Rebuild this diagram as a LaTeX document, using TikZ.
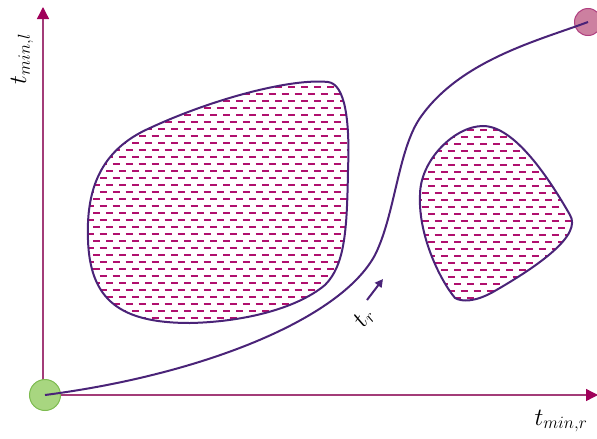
\documentclass[tikz,border=0pt]{standalone}
\usetikzlibrary{arrows.meta}
\definecolor{axiscol}{RGB}{163,60,120}
\definecolor{tipcol}{RGB}{160,0,90}
\definecolor{curvecol}{RGB}{74,35,120}
\definecolor{hatchcol}{RGB}{176,16,110}
\definecolor{greenfill}{RGB}{168,214,128}
\definecolor{greenline}{RGB}{125,187,80}
\definecolor{pinkfill}{RGB}{204,128,160}
\definecolor{pinkline}{RGB}{176,64,128}
\begin{document}
\begin{tikzpicture}[x=1pt,y=-1pt,
    axis/.style={axiscol, line width=1.4pt, -{Triangle[width=12pt,length=12pt,color=tipcol]}},
    region/.style={curvecol, line width=2pt},
    hatch/.style={draw=hatchcol, line width=2pt, dash pattern=on 7pt off 6pt},
    traj/.style={curvecol, line width=2pt},
    lbl/.style={font=\fontsize{27}{30}\selectfont}]
  \useasboundingbox (0,0) rectangle (597,439);
  % axes
  \coordinate (origin) at (43,395);
  \coordinate (ytip) at (43,7);
  \coordinate (xtip) at (598,395);
  \draw[axis] (origin) -- (ytip);
  \draw[axis] (origin) -- (xtip);
  \node[lbl, rotate=90] (ylabel) at (22,59) {$t_{min,l}$};
  \node[lbl] (xlabel) at (561,421) {$t_{min,r}$};
  % left region
  \def\blobA{(328,82) .. controls (345,84) and (350,120) .. (348,170)
    .. controls (347,230) and (345,265) .. (325,285)
    .. controls (295,310) and (240,322) .. (190,323)
    .. controls (120,323) and (90,300) .. (88,240)
    .. controls (86,190) and (100,150) .. (150,128)
    .. controls (210,100) and (290,78) .. (328,82) -- cycle}
  \begin{scope}
    \clip \blobA;
    \foreach \i in {0,...,34} {
      \pgfmathsetmacro{\hy}{87+\i*7}
      \pgfmathsetmacro{\hph}{mod(\i,2)*6.5}
      \draw[hatch, dash phase=\hph pt] (80,\hy) -- (360,\hy);
    }
  \end{scope}
  \draw[region] \blobA;
  % right region
  \def\blobB{(483,126) .. controls (515,126) and (550,180) .. (570,215)
    .. controls (582,235) and (540,265) .. (493,292)
    .. controls (475,302) and (462,302) .. (455,298)
    .. controls (440,280) and (418,235) .. (420,195)
    .. controls (420,160) and (455,126) .. (483,126) -- cycle}
  \begin{scope}
    \clip \blobB;
    \foreach \i in {0,...,25} {
      \pgfmathsetmacro{\hy}{130+\i*7}
      \pgfmathsetmacro{\hph}{mod(\i,2)*6.5}
      \draw[hatch, dash phase=\hph pt] (415,\hy) -- (580,\hy);
    }
  \end{scope}
  \draw[region] \blobB;
  % trajectory
  \node[circle, draw=greenline, fill=greenfill, line width=1pt, minimum size=31pt, inner sep=0pt] (start) at (45,395) {};
  \node[circle, draw=pinkline, fill=pinkfill, line width=1pt, minimum size=27pt, inner sep=0pt] (goal) at (588,22) {};
  \draw[traj] (start.center) .. controls (200,375) and (340,320) .. (375,255)
    .. controls (395,215) and (398,150) .. (420,118)
    .. controls (460,60) and (540,40) .. (goal.center);
  % direction
  \coordinate (dirA) at (367,300);
  \coordinate (dirB) at (383,279);
  \draw[curvecol, line width=2pt, -{Triangle[width=8pt,length=8pt]}] (dirA) -- (dirB);
  \node[lbl, rotate=55] (tr) at (364,318) {$t_r$};
\end{tikzpicture}
\end{document}
